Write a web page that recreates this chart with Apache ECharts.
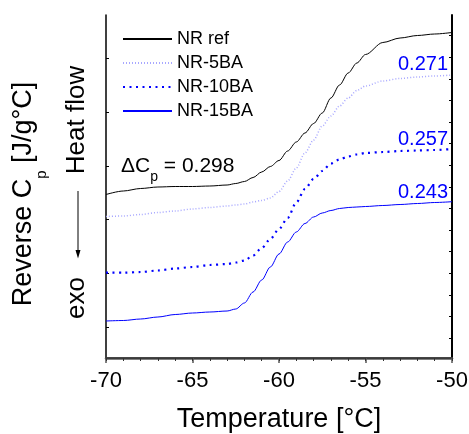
<!DOCTYPE html>
<html>
<head>
<meta charset="utf-8">
<title>Reverse Cp</title>
<script src="https://cdn.jsdelivr.net/npm/echarts@6.0.0/dist/echarts.min.js"></script>
<style>
    html, body { margin: 0; padding: 0; background: #fff; }
    #main { width: 469px; height: 434px; }
</style>
</head>
<body>
<div id="main"></div>
<script>
var FONT = '"Liberation Sans", Arial, Helvetica, sans-serif';

// 温度 (°C)
var temperature = [-70, -69, -68, -67, -66, -65, -64, -63, -62.5, -62, -61.5, -61, -60.5, -60, -59.5,
    -59, -58.5, -58, -57.5, -57, -56.5, -56, -55.5, -55, -54, -53, -52, -51, -50];

// reverse Cp 曲线 (任意单位, 已偏移)
var nrRef = [1.635, 1.67, 1.695, 1.71, 1.715, 1.715, 1.72, 1.73, 1.745, 1.765, 1.805, 1.86, 1.915, 1.975, 2.07,
    2.16, 2.25, 2.345, 2.45, 2.60, 2.73, 2.85, 2.95, 3.035, 3.155, 3.20, 3.225, 3.24, 3.255];
var nr5BA = [1.415, 1.42, 1.435, 1.455, 1.47, 1.49, 1.505, 1.52, 1.53, 1.54, 1.56, 1.575, 1.60, 1.665, 1.77,
    1.90, 2.05, 2.18, 2.32, 2.42, 2.52, 2.60, 2.675, 2.72, 2.77, 2.795, 2.81, 2.82, 2.83];
var nr10BA = [0.853, 0.853, 0.86, 0.875, 0.895, 0.91, 0.93, 0.94, 0.955, 0.975, 1.025, 1.10, 1.19, 1.29, 1.40,
    1.555, 1.69, 1.79, 1.87, 1.945, 1.985, 2.015, 2.035, 2.05, 2.06, 2.07, 2.075, 2.08, 2.09];
var nr15BA = [0.37, 0.375, 0.39, 0.41, 0.435, 0.45, 0.46, 0.47, 0.49, 0.55, 0.66, 0.78, 0.91, 1.04, 1.16,
    1.26, 1.345, 1.41, 1.45, 1.475, 1.495, 1.505, 1.51, 1.515, 1.525, 1.535, 1.545, 1.555, 1.563];

var seriesNames = ['NR ref', 'NR-5BA', 'NR-10BA', 'NR-15BA'];
var deltaCp = ['0.298', '0.271', '0.257', '0.243'];

// y 轴刻度位置
var leftTicks = [0.31, 0.85, 1.39, 1.92, 2.46, 3.0];
var rightTicks = [0.2, 0.416, 0.632, 0.848, 1.064, 1.28, 1.496, 1.712, 1.928, 2.144, 2.36, 2.576, 2.792, 3.008, 3.224];

function fun_pairs(xs, ys) {
    var out = [];
    for (var i = 0; i < xs.length; i++) {
        out.push([xs[i], ys[i]]);
    }
    return out;
}

function fun_line(name, values, color, width, type) {
    return {
        name: name,
        type: 'line',
        data: fun_pairs(temperature, values),
        symbol: 'none',
        showSymbol: false,
        smooth: 0.3,
        smoothMonotone: 'x',
        lineStyle: { color: color, width: width, type: type },
        itemStyle: { color: color },
        z: 3
    };
}

var chart = echarts.init(document.getElementById('main'), null, { renderer: 'canvas' });

var option = {
    animation: false,
    backgroundColor: '#fff',
    grid: { left: 106, right: 17, top: 15, bottom: 76, outerBoundsMode: 'none' },
    legend: {
        data: seriesNames,
        orient: 'vertical',
        left: 117,
        top: 25,
        itemWidth: 49,
        itemHeight: 14,
        itemGap: 6,
        // 图例只画线，不画圆点
        itemStyle: { opacity: 0 },
        textStyle: { fontFamily: FONT, fontSize: 18, lineHeight: 18, color: '#000' }
    },
    xAxis: [{
        type: 'value',
        position: 'bottom',
        min: -70,
        max: -50,
        interval: 5,
        axisLine: { lineStyle: { color: '#555', width: 2.5 } },
        axisTick: { inside: false, length: 5, lineStyle: { color: '#555', width: 1.5 } },
        axisLabel: {
            fontFamily: FONT, fontSize: 22, color: '#000', margin: 12,
            formatter: function (v) { return String(v); }
        },
        splitLine: { show: false },
        name: 'Temperature [°C]',
        nameLocation: 'middle',
        nameGap: 48,
        nameTextStyle: { fontFamily: FONT, fontSize: 27, lineHeight: 27, color: '#000' }
    }, {
        type: 'value',
        position: 'top',
        min: -70,
        max: -50,
        interval: 1,
        axisLine: { lineStyle: { color: '#333', width: 1.5 } },
        axisTick: { inside: true, length: 3, lineStyle: { color: '#333', width: 1 } },
        axisLabel: { show: false },
        splitLine: { show: false }
    }],
    yAxis: [{
        type: 'value',
        position: 'left',
        min: 0,
        max: 3.43,
        axisLine: { show: true, lineStyle: { color: '#000', width: 1.5 } },
        axisTick: { show: true, inside: true, length: 3, customValues: leftTicks, lineStyle: { color: '#000', width: 1 } },
        axisLabel: { show: false },
        splitLine: { show: false }
    }, {
        type: 'value',
        position: 'right',
        min: 0,
        max: 3.43,
        axisLine: { show: true, lineStyle: { color: '#000', width: 2 } },
        axisTick: { show: true, inside: true, length: 3, customValues: rightTicks, lineStyle: { color: '#000', width: 1 } },
        axisLabel: { show: false },
        splitLine: { show: false }
    }],
    series: [
        fun_line(seriesNames[0], nrRef, '#000000', 1, 'solid'),
        fun_line(seriesNames[1], nr5BA, '#a8a8ff', 1.5, [1, 2]),
        fun_line(seriesNames[2], nr10BA, '#0000ff', 2.2, [2, 4.5]),
        fun_line(seriesNames[3], nr15BA, '#0000ff', 1, 'solid')
    ],
    graphic: [
        // y 轴标题
        {
            type: 'text', x: 24, y: 194, rotation: Math.PI / 2,
            style: {
                text: '{a|Reverse C}{s|p}{a| [J/g°C]}',
                align: 'center', verticalAlign: 'middle',
                textAlign: 'center', textVerticalAlign: 'middle',
                fill: '#000',
                rich: {
                    a: { fontFamily: FONT, fontSize: 27, lineHeight: 30, fill: '#000' },
                    s: { fontFamily: FONT, fontSize: 15, lineHeight: 15, padding: [36, 0, 0, 0], fill: '#000' }
                }
            }
        },
        {
            type: 'text', x: 77, y: 120, rotation: Math.PI / 2,
            style: {
                text: 'Heat flow', font: '26px ' + FONT, fill: '#000',
                align: 'center', verticalAlign: 'middle', textAlign: 'center', textVerticalAlign: 'middle'
            }
        },
        {
            type: 'text', x: 77, y: 298, rotation: Math.PI / 2,
            style: {
                text: 'exo', font: '26px ' + FONT, fill: '#000',
                align: 'center', verticalAlign: 'middle', textAlign: 'center', textVerticalAlign: 'middle'
            }
        },
        {
            type: 'line',
            shape: { x1: 78, y1: 191, x2: 78, y2: 252 },
            style: { stroke: '#000', lineWidth: 1 }
        },
        {
            type: 'polygon',
            shape: { points: [[75.5, 250], [80.5, 250], [78, 258.5]] },
            style: { fill: '#000' }
        },
        // ΔCp 标注
        {
            type: 'text', x: 121, y: 166,
            style: {
                text: '{a|ΔC}{s|p}{a| = ' + deltaCp[0] + '}',
                align: 'left', verticalAlign: 'middle',
                textAlign: 'left', textVerticalAlign: 'middle',
                fill: '#000',
                rich: {
                    a: { fontFamily: FONT, fontSize: 21, lineHeight: 24, fill: '#000' },
                    s: { fontFamily: FONT, fontSize: 14, lineHeight: 14, padding: [23, 0, 0, 0], fill: '#000' }
                }
            }
        },
        {
            type: 'text', x: 448, y: 64.7,
            style: {
                text: deltaCp[1], font: '20px ' + FONT, fill: '#0000ff',
                align: 'right', verticalAlign: 'middle', textAlign: 'right', textVerticalAlign: 'middle'
            }
        },
        {
            type: 'text', x: 448, y: 139.7,
            style: {
                text: deltaCp[2], font: '20px ' + FONT, fill: '#0000ff',
                align: 'right', verticalAlign: 'middle', textAlign: 'right', textVerticalAlign: 'middle'
            }
        },
        {
            type: 'text', x: 448, y: 192.3,
            style: {
                text: deltaCp[3], font: '20px ' + FONT, fill: '#0000ff',
                align: 'right', verticalAlign: 'middle', textAlign: 'right', textVerticalAlign: 'middle'
            }
        }
    ]
};

chart.setOption(option);
</script>
</body>
</html>
